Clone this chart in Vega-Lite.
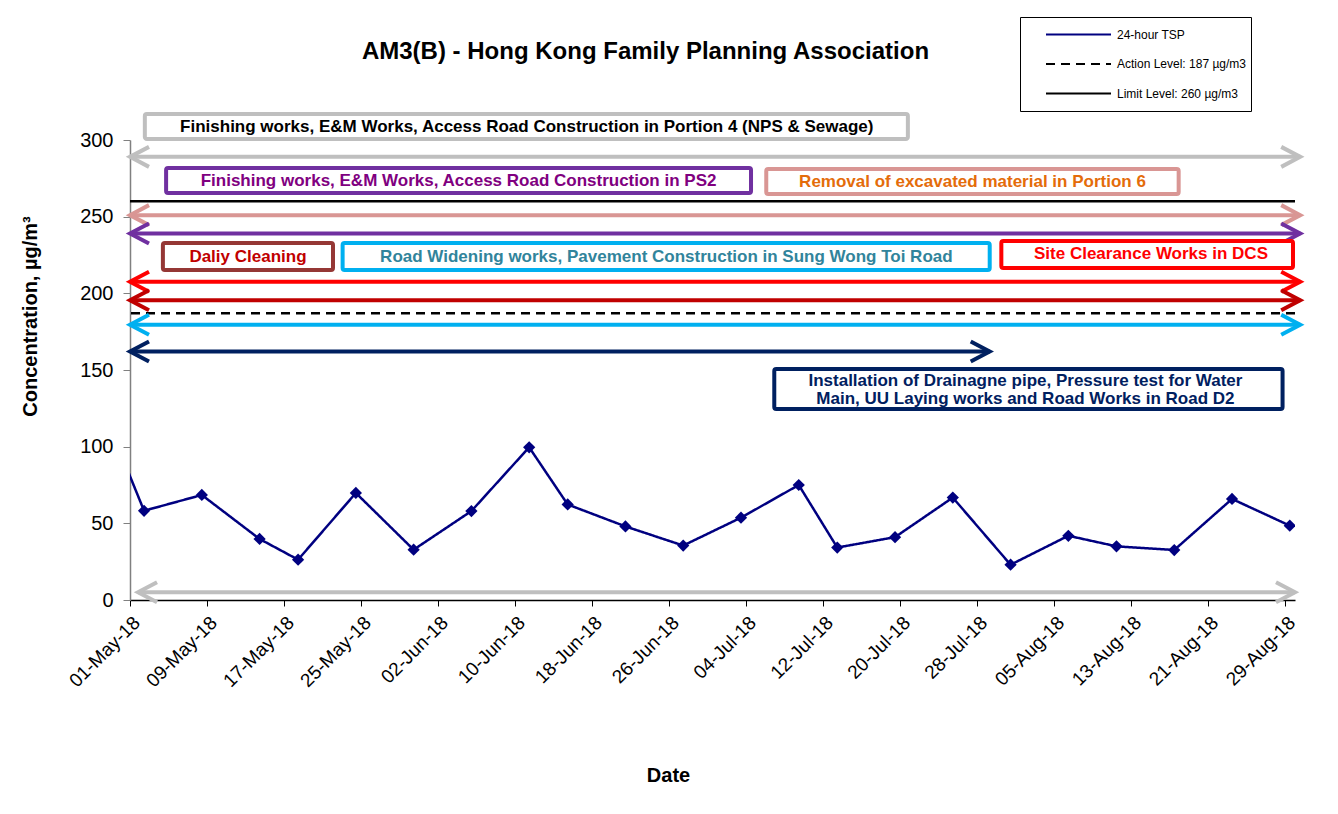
{
  "$schema": "https://vega.github.io/schema/vega-lite/v6.json",
  "width": 1165,
  "height": 460,
  "autosize": {"type": "none"},
  "padding": {"left": 130, "top": 140, "right": 43, "bottom": 214},
  "background": "white",
  "title": {"text": "AM3(B) - Hong Kong Family Planning Association", "fontSize": 24, "font": "Liberation Sans", "fontWeight": "bold", "color": "#000000", "anchor": "middle", "frame": "group", "dx": -67, "offset": -47},
  "datasets": {
    "tsp": [
      {"date": "2018-04-26T11:00", "tsp": 151, "series": "24-hour TSP"},
      {"date": "2018-05-02T11:00", "tsp": 58.2, "series": "24-hour TSP"},
      {"date": "2018-05-08T11:00", "tsp": 68.5, "series": "24-hour TSP"},
      {"date": "2018-05-14T11:00", "tsp": 39.8, "series": "24-hour TSP"},
      {"date": "2018-05-18T11:00", "tsp": 26.3, "series": "24-hour TSP"},
      {"date": "2018-05-24T11:00", "tsp": 69.8, "series": "24-hour TSP"},
      {"date": "2018-05-30T11:00", "tsp": 32.8, "series": "24-hour TSP"},
      {"date": "2018-06-05T11:00", "tsp": 58, "series": "24-hour TSP"},
      {"date": "2018-06-11T11:00", "tsp": 99.6, "series": "24-hour TSP"},
      {"date": "2018-06-15T11:00", "tsp": 62.3, "series": "24-hour TSP"},
      {"date": "2018-06-21T11:00", "tsp": 48, "series": "24-hour TSP"},
      {"date": "2018-06-27T11:00", "tsp": 35.5, "series": "24-hour TSP"},
      {"date": "2018-07-03T11:00", "tsp": 53.7, "series": "24-hour TSP"},
      {"date": "2018-07-09T11:00", "tsp": 75, "series": "24-hour TSP"},
      {"date": "2018-07-13T11:00", "tsp": 34.2, "series": "24-hour TSP"},
      {"date": "2018-07-19T11:00", "tsp": 41, "series": "24-hour TSP"},
      {"date": "2018-07-25T11:00", "tsp": 66.8, "series": "24-hour TSP"},
      {"date": "2018-07-31T11:00", "tsp": 23, "series": "24-hour TSP"},
      {"date": "2018-08-06T11:00", "tsp": 41.9, "series": "24-hour TSP"},
      {"date": "2018-08-11T11:00", "tsp": 35, "series": "24-hour TSP"},
      {"date": "2018-08-17T11:00", "tsp": 32.6, "series": "24-hour TSP"},
      {"date": "2018-08-23T11:00", "tsp": 65.9, "series": "24-hour TSP"},
      {"date": "2018-08-29T11:00", "tsp": 48.5, "series": "24-hour TSP"}
    ],
    "levels": [
      {"series": "Action Level: 187 µg/m3", "value": 187},
      {"series": "Limit Level: 260 µg/m3", "value": 260}
    ],
    "arrows": [
      {"activity": "Finishing works, E&M Works, Access Road Construction in Portion 4 (NPS & Sewage)", "start": "2018-05-01T00:00", "end": "2018-08-30T13:00", "level": 289},
      {"activity": "Removal of excavated material in Portion 6", "start": "2018-05-01T00:00", "end": "2018-08-30T13:00", "level": 251},
      {"activity": "Finishing works, E&M Works, Access Road Construction in PS2", "start": "2018-05-01T00:00", "end": "2018-08-30T13:00", "level": 239},
      {"activity": "Site Clearance Works in DCS", "start": "2018-05-01T00:00", "end": "2018-08-30T13:00", "level": 207.5},
      {"activity": "Daliy Cleaning", "start": "2018-05-01T00:00", "end": "2018-08-30T13:00", "level": 195.5},
      {"activity": "Road Widening works, Pavement Construction in Sung Wong Toi Road", "start": "2018-05-01T00:00", "end": "2018-08-30T13:00", "level": 179.5},
      {"activity": "Installation of Drainagne pipe, Pressure test for Water Main, UU Laying works and Road Works in Road D2", "start": "2018-05-01T00:00", "end": "2018-07-29T07:00", "level": 162},
      {"activity": "Finishing works, E&M Works, Access Road Construction in Portion 4 (NPS & Sewage)", "start": "2018-05-01T20:00", "end": "2018-08-30T00:00", "level": 5}
    ],
    "boxes": [
      {"activity": "Finishing works, E&M Works, Access Road Construction in Portion 4 (NPS & Sewage)", "label": "Finishing works, E&M Works, Access Road Construction in Portion 4 (NPS & Sewage)", "start": "2018-05-02T13:00", "end": "2018-07-20T19:00", "bottom": 300.7, "top": 317, "labelDate": "2018-06-11T05:00", "labelValue": 308.8},
      {"activity": "Finishing works, E&M Works, Access Road Construction in PS2", "label": "Finishing works, E&M Works, Access Road Construction in PS2", "start": "2018-05-04T18:00", "end": "2018-07-04T12:00", "bottom": 265.4, "top": 281.7, "labelDate": "2018-06-04T03:00", "labelValue": 273.5},
      {"activity": "Removal of excavated material in Portion 6", "label": "Removal of excavated material in Portion 6", "start": "2018-07-06T02:00", "end": "2018-08-17T22:00", "bottom": 264.8, "top": 281.1, "labelDate": "2018-07-27T12:00", "labelValue": 272.6},
      {"activity": "Daliy Cleaning", "label": "Daliy Cleaning", "start": "2018-05-04T10:00", "end": "2018-05-22T02:00", "bottom": 215.2, "top": 232.8, "labelDate": "2018-05-13T06:00", "labelValue": 223.7},
      {"activity": "Road Widening works, Pavement Construction in Sung Wong Toi Road", "label": "Road Widening works, Pavement Construction in Sung Wong Toi Road", "start": "2018-05-23T02:00", "end": "2018-07-29T07:00", "bottom": 215.2, "top": 232.8, "labelDate": "2018-06-25T17:00", "labelValue": 223.7},
      {"activity": "Site Clearance Works in DCS", "label": "Site Clearance Works in DCS", "start": "2018-07-30T12:00", "end": "2018-08-29T19:00", "bottom": 216.5, "top": 234.1, "labelDate": "2018-08-15T01:00", "labelValue": 225.7},
      {"activity": "Installation of Drainagne pipe, Pressure test for Water Main, UU Laying works and Road Works in Road D2", "label": "Installation of Drainagne pipe, Pressure test for Water\nMain, UU Laying works and Road Works in Road D2", "start": "2018-07-06T22:00", "end": "2018-08-28T17:00", "bottom": 124.6, "top": 150.7, "labelDate": "2018-08-02T00:00", "labelValue": 142.9}
    ]
  },
  "resolve": {"scale": {"stroke": "independent"}},
  "layer": [
    {
      "data": {"name": "levels"},
      "mark": {"type": "rule", "strokeWidth": 2.5},
      "encoding": {
        "y": {"field": "value", "type": "quantitative", "scale": {"domain": [0, 300], "nice": false, "zero": true}},
        "color": {"field": "series", "type": "nominal",
          "scale": {"domain": ["24-hour TSP", "Action Level: 187 µg/m3", "Limit Level: 260 µg/m3"], "range": ["#000080", "#000000", "#000000"]},
          "legend": {"title": null, "orient": "none", "legendX": 890, "legendY": -123, "symbolType": "stroke", "symbolSize": 4225, "symbolStrokeWidth": 2, "labelFontSize": 12, "labelFont": "Liberation Sans", "labelColor": "#000000", "padding": 5, "clipHeight": 25, "rowPadding": 4.5, "symbolOffset": 20, "labelOffset": 5, "strokeColor": "#000000", "fillColor": "#ffffff"}},
        "strokeDash": {"field": "series", "type": "nominal",
          "scale": {"domain": ["24-hour TSP", "Action Level: 187 µg/m3", "Limit Level: 260 µg/m3"], "range": [[1, 0], [9, 6], [1, 0]]},
          "legend": {"title": null, "orient": "none", "legendX": 890, "legendY": -123, "symbolType": "stroke", "symbolSize": 4225, "symbolStrokeWidth": 2, "labelFontSize": 12, "labelFont": "Liberation Sans", "labelColor": "#000000", "padding": 5, "clipHeight": 25, "rowPadding": 4.5, "symbolOffset": 20, "labelOffset": 5, "strokeColor": "#000000", "fillColor": "#ffffff"}}
      }
    },
    {
      "data": {"name": "arrows"},
      "mark": {"type": "rule", "strokeWidth": 4},
      "encoding": {
        "x": {"field": "start", "type": "temporal"},
        "x2": {"field": "end"},
        "y": {"field": "level", "type": "quantitative"},
        "stroke": {"field": "activity", "type": "nominal", "legend": null,
          "scale": {"domain": ["Finishing works, E&M Works, Access Road Construction in Portion 4 (NPS & Sewage)", "Finishing works, E&M Works, Access Road Construction in PS2", "Removal of excavated material in Portion 6", "Daliy Cleaning", "Road Widening works, Pavement Construction in Sung Wong Toi Road", "Site Clearance Works in DCS", "Installation of Drainagne pipe, Pressure test for Water Main, UU Laying works and Road Works in Road D2"],
            "range": ["#BFBFBF", "#7030A0", "#D99694", "#C00000", "#00B0F0", "#FF0000", "#002060"]}}
      }
    },
    {
      "data": {"name": "arrows"},
      "mark": {"type": "point", "shape": "M1.9,-1L0,0L1.9,1", "size": 400, "strokeWidth": 4, "filled": false, "opacity": 1},
      "encoding": {
        "x": {"field": "start", "type": "temporal"},
        "y": {"field": "level", "type": "quantitative"},
        "stroke": {"field": "activity", "type": "nominal", "legend": null,
          "scale": {"domain": ["Finishing works, E&M Works, Access Road Construction in Portion 4 (NPS & Sewage)", "Finishing works, E&M Works, Access Road Construction in PS2", "Removal of excavated material in Portion 6", "Daliy Cleaning", "Road Widening works, Pavement Construction in Sung Wong Toi Road", "Site Clearance Works in DCS", "Installation of Drainagne pipe, Pressure test for Water Main, UU Laying works and Road Works in Road D2"],
            "range": ["#BFBFBF", "#7030A0", "#D99694", "#C00000", "#00B0F0", "#FF0000", "#002060"]}}
      }
    },
    {
      "data": {"name": "arrows"},
      "mark": {"type": "point", "shape": "M-1.9,-1L0,0L-1.9,1", "size": 400, "strokeWidth": 4, "filled": false, "opacity": 1},
      "encoding": {
        "x": {"field": "end", "type": "temporal"},
        "y": {"field": "level", "type": "quantitative"},
        "stroke": {"field": "activity", "type": "nominal", "legend": null,
          "scale": {"domain": ["Finishing works, E&M Works, Access Road Construction in Portion 4 (NPS & Sewage)", "Finishing works, E&M Works, Access Road Construction in PS2", "Removal of excavated material in Portion 6", "Daliy Cleaning", "Road Widening works, Pavement Construction in Sung Wong Toi Road", "Site Clearance Works in DCS", "Installation of Drainagne pipe, Pressure test for Water Main, UU Laying works and Road Works in Road D2"],
            "range": ["#BFBFBF", "#7030A0", "#D99694", "#C00000", "#00B0F0", "#FF0000", "#002060"]}}
      }
    },
    {
      "data": {"name": "boxes"},
      "mark": {"type": "rect", "fill": "#ffffff", "strokeWidth": 4, "cornerRadius": 2},
      "encoding": {
        "x": {"field": "start", "type": "temporal"},
        "x2": {"field": "end"},
        "y": {"field": "bottom", "type": "quantitative"},
        "y2": {"field": "top"},
        "stroke": {"field": "activity", "type": "nominal", "legend": null,
          "scale": {"domain": ["Finishing works, E&M Works, Access Road Construction in Portion 4 (NPS & Sewage)", "Finishing works, E&M Works, Access Road Construction in PS2", "Removal of excavated material in Portion 6", "Daliy Cleaning", "Road Widening works, Pavement Construction in Sung Wong Toi Road", "Site Clearance Works in DCS", "Installation of Drainagne pipe, Pressure test for Water Main, UU Laying works and Road Works in Road D2"],
            "range": ["#BFBFBF", "#7030A0", "#D99694", "#953735", "#00B0F0", "#FF0000", "#002060"]}}
      }
    },
    {
      "data": {"name": "boxes"},
      "mark": {"type": "text", "font": "Liberation Sans", "fontWeight": "bold", "fontSize": 17, "align": "center", "baseline": "middle", "lineBreak": "\n", "lineHeight": 18},
      "encoding": {
        "x": {"field": "labelDate", "type": "temporal"},
        "y": {"field": "labelValue", "type": "quantitative"},
        "text": {"field": "label", "type": "nominal"},
        "fill": {"field": "activity", "type": "nominal", "legend": null,
          "scale": {"domain": ["Finishing works, E&M Works, Access Road Construction in Portion 4 (NPS & Sewage)", "Finishing works, E&M Works, Access Road Construction in PS2", "Removal of excavated material in Portion 6", "Daliy Cleaning", "Road Widening works, Pavement Construction in Sung Wong Toi Road", "Site Clearance Works in DCS", "Installation of Drainagne pipe, Pressure test for Water Main, UU Laying works and Road Works in Road D2"],
            "range": ["#000000", "#800080", "#E46C0A", "#C00000", "#31849B", "#FF0000", "#002060"]}}
      }
    },
    {
      "data": {"name": "tsp"},
      "mark": {"type": "line", "strokeWidth": 2.5, "clip": true},
      "encoding": {
        "x": {"field": "date", "type": "temporal",
          "scale": {"domain": [{"year": 2018, "month": 5, "date": 1}, {"year": 2018, "month": 8, "date": 30}]},
          "axis": {"values": [{"year": 2018, "month": 5, "date": 1}, {"year": 2018, "month": 5, "date": 9}, {"year": 2018, "month": 5, "date": 17}, {"year": 2018, "month": 5, "date": 25}, {"year": 2018, "month": 6, "date": 2}, {"year": 2018, "month": 6, "date": 10}, {"year": 2018, "month": 6, "date": 18}, {"year": 2018, "month": 6, "date": 26}, {"year": 2018, "month": 7, "date": 4}, {"year": 2018, "month": 7, "date": 12}, {"year": 2018, "month": 7, "date": 20}, {"year": 2018, "month": 7, "date": 28}, {"year": 2018, "month": 8, "date": 5}, {"year": 2018, "month": 8, "date": 13}, {"year": 2018, "month": 8, "date": 21}, {"year": 2018, "month": 8, "date": 29}],
            "format": "%d-%b-%y", "labelAngle": -45, "labelAlign": "right", "labelBaseline": "top", "labelPadding": 7, "labelFontSize": 19, "labelFont": "Liberation Sans", "labelColor": "#000000", "labelFlush": false, "labelOverlap": false,
            "tickSize": 6, "tickColor": "#000000", "domainColor": "#000000", "domainWidth": 1.5, "grid": false,
            "title": "Date", "titleFont": "Liberation Sans", "titleFontSize": 20, "titleFontWeight": "bold", "titleColor": "#000000", "titleX": 538, "titleY": 175, "titleAlign": "center", "titleBaseline": "middle"}},
        "y": {"field": "tsp", "type": "quantitative",
          "axis": {"values": [0, 50, 100, 150, 200, 250, 300], "labelFontSize": 20, "labelFont": "Liberation Sans", "labelColor": "#000000", "labelPadding": 10, "tickSize": 7, "tickColor": "#808080", "domainColor": "#808080", "domainWidth": 1.5, "grid": false,
            "title": "Concentration, µg/m³", "titleFont": "Liberation Sans", "titleFontSize": 20, "titleFontWeight": "bold", "titleColor": "#000000", "titleX": -100, "titleY": 176, "titleAngle": -90, "titleAlign": "center", "titleBaseline": "middle"}},
        "color": {"field": "series", "type": "nominal"},
        "strokeDash": {"field": "series", "type": "nominal"}
      }
    },
    {
      "data": {"name": "tsp"},
      "mark": {"type": "point", "shape": "diamond", "filled": true, "size": 150, "color": "#000080", "opacity": 1, "clip": true},
      "encoding": {
        "x": {"field": "date", "type": "temporal"},
        "y": {"field": "tsp", "type": "quantitative"}
      }
    }
  ],
  "config": {
    "font": "Liberation Sans",
    "view": {"stroke": null},
    "axis": {"grid": false}
  }
}
